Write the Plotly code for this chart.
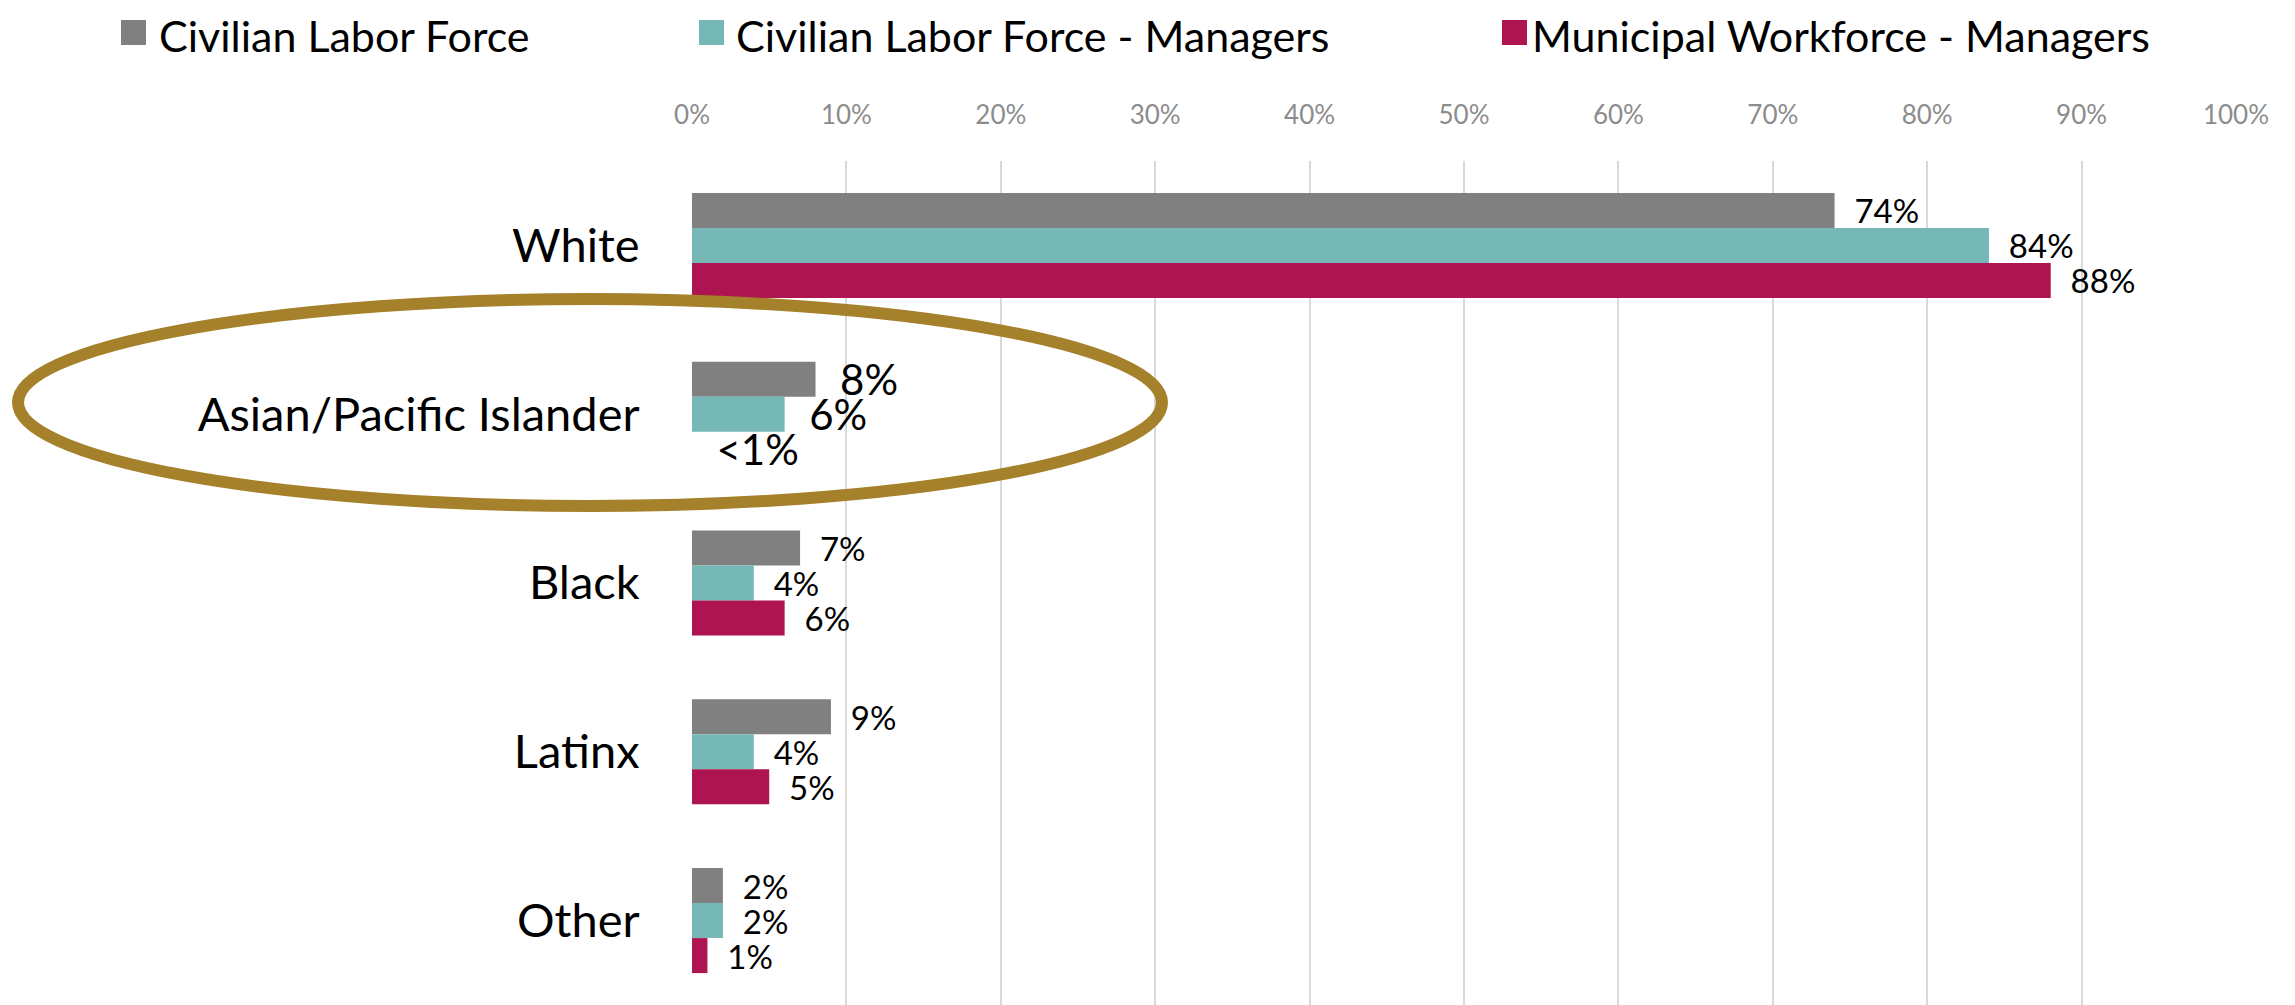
import plotly.graph_objects as go

# data
categories = ["White", "Asian/Pacific Islander", "Black", "Latinx", "Other"]
series_names = ["Civilian Labor Force", "Civilian Labor Force - Managers", "Municipal Workforce - Managers"]
clf = [74, 8, 7, 9, 2]
clf_managers = [84, 6, 4, 4, 2]
municipal_managers = [88, 0, 6, 5, 1]
clf_labels = ["74%", "8%", "7%", "9%", "2%"]
clf_managers_labels = ["84%", "6%", "4%", "4%", "2%"]
municipal_managers_labels = ["88%", "<1%", "6%", "5%", "1%"]
tick_vals = [0, 10, 20, 30, 40, 50, 60, 70, 80, 90, 100]
tick_text = ["0%", "10%", "20%", "30%", "40%", "50%", "60%", "70%", "80%", "90%", "100%"]

colors = ["#808080", "#75B8B6", "#AD1450"]
gold = "#A6812B"
font = "Lato, 'Open Sans', sans-serif"

W, H = 2295, 1005
OFF = 8  # page body margin
# plot area in page pixels
L, R, T, B = 692, 2236, 161, 1005


def px_x(p):
    return (p - L) / (R - L)


def px_y(p):
    return (B - p) / (B - T)


# Asian/Pacific Islander labels are drawn bigger
label_sizes = [33, 42, 33, 33, 33]
nb = "\u00a0\u00a0"

fig = go.Figure()
for name, vals, labels, color in zip(
    series_names,
    [clf, clf_managers, municipal_managers],
    [clf_labels, clf_managers_labels, municipal_managers_labels],
    colors,
):
    tf = dict(size=label_sizes, color="black", family=font)
    fig.add_trace(go.Bar(
        name=name, y=categories, x=vals, orientation="h",
        marker=dict(color=color, line=dict(width=0)),
        text=[nb + t for t in labels], textposition="outside",
        textfont=tf, outsidetextfont=tf, constraintext="none",
        cliponaxis=False, showlegend=False,
    ))

fig.update_layout(
    width=W, height=H,
    margin=dict(l=L - OFF, r=W - (R - OFF), t=T - OFF, b=H - (B - OFF), pad=0),
    barmode="group", bargap=0.378, bargroupgap=0,
    plot_bgcolor="white", paper_bgcolor="white",
    font=dict(family=font, color="black"),
)
fig.update_xaxes(
    range=[0, 100], side="top", tickvals=tick_vals, ticktext=tick_text,
    tickfont=dict(size=26, color="#8C8C8C"),
    showgrid=True, gridcolor="#D9D9D9", gridwidth=1.5,
    zeroline=False, showline=False,
    ticks="outside", ticklen=26, tickcolor="rgba(0,0,0,0)",
)
fig.update_yaxes(
    autorange="reversed", tickfont=dict(size=47, color="black"),
    showgrid=False, zeroline=False, showline=False,
    ticks="outside", ticklen=42, tickcolor="rgba(0,0,0,0)",
)

# ellipse around Asian/Pacific Islander
fig.add_shape(
    type="circle", xref="paper", yref="paper",
    x0=px_x(18), x1=px_x(1162), y0=px_y(506), y1=px_y(299),
    line=dict(color=gold, width=12), layer="above",
)

# legend drawn across the top
legend_sq = [121, 699, 1502]
legend_txt = [157, 734, 1530]
for name, color, sq, tx in zip(series_names, colors, legend_sq, legend_txt):
    fig.add_shape(
        type="rect", xref="paper", yref="paper",
        x0=px_x(sq), x1=px_x(sq + 25), y0=px_y(45), y1=px_y(20),
        fillcolor=color, line=dict(width=0),
    )
    fig.add_annotation(
        text=name, xref="paper", yref="paper", x=px_x(tx), y=px_y(35),
        xanchor="left", yanchor="middle", showarrow=False,
        font=dict(size=43, color="black", family=font),
    )

fig.write_html("out.html")
